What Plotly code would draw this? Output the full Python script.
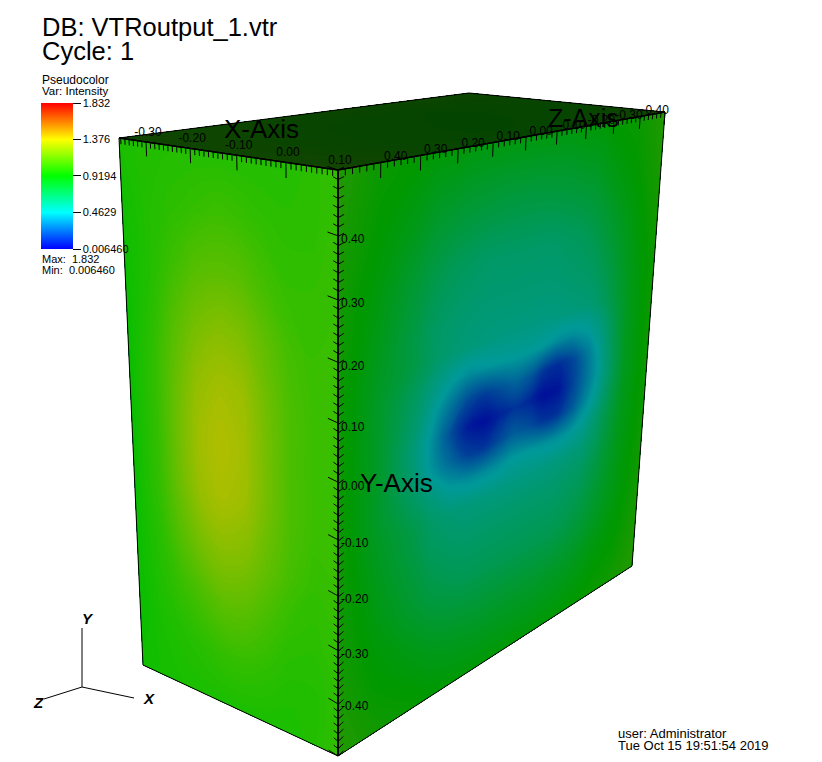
import numpy as np
import plotly.graph_objects as go

# ---------- data ----------
VMIN, VMAX = 0.00646, 1.832
CBAR_TICKS = [0.00646, 0.4629, 0.9194, 1.376, 1.832]
CBAR_LABELS = ["0.006460", "0.4629", "0.9194", "1.376", "1.832"]

X_RANGE = (-0.364, 0.10)
Y_RANGE = (-0.5, 0.5)
Z_RANGE = (-0.5, 0.5)

X_TICKS = [-0.30, -0.20, -0.10, 0.00, 0.10]
Y_TICKS = [0.40, 0.30, 0.20, 0.10, 0.00, -0.10, -0.20, -0.30, -0.40]
Z_TICKS = [0.40, 0.30, 0.20, 0.10, 0.00, -0.10, -0.20, -0.30, -0.40]
X_MINOR, Y_MINOR, Z_MINOR = 10, 7, 6  # tick gaps per 0.10

RIGHT_Z = [0.5, 0.4, 0.3, 0.25, 0.2, 0.15, 0.1, 0.05, 0, -0.05, -0.1, -0.15, -0.2, -0.25, -0.3, -0.4, -0.5]
RIGHT_Y = [0.5, 0.4, 0.3, 0.2, 0.15, 0.1, 0.05, 0, -0.05, -0.1, -0.15, -0.2, -0.3, -0.4, -0.5]
RIGHT_V = [
    [1.02, .95, .92, .90, .90, .88, .88, .88, .88, .88, .88, .88, .90, .90, .92, .95, 1.02],
    [1.00, .92, .85, .80, .78, .76, .75, .74, .74, .74, .75, .76, .78, .80, .85, .92, 1.00],
    [.98, .88, .76, .70, .66, .64, .62, .62, .62, .62, .62, .64, .66, .70, .76, .88, .98],
    [.97, .84, .70, .63, .60, .58, .57, .57, .57, .57, .57, .58, .60, .62, .68, .85, .96],
    [.96, .82, .70, .62, .58, .56, .55, .54, .54, .54, .54, .55, .56, .58, .64, .84, .96],
    [.96, .80, .64, .54, .47, .42, .44, .46, .47, .47, .45, .42, .43, .47, .56, .83, .96],
    [.96, .80, .60, .47, .34, .22, .18, .24, .30, .26, .16, .14, .22, .36, .50, .83, .96],
    [.96, .80, .56, .42, .24, .09, .05, .11, .16, .12, .05, .07, .20, .34, .48, .82, .96],
    [.96, .80, .58, .44, .32, .20, .16, .22, .28, .24, .16, .16, .26, .40, .52, .83, .96],
    [.96, .80, .64, .55, .47, .43, .42, .43, .46, .46, .44, .43, .45, .50, .60, .84, .96],
    [.97, .82, .70, .62, .58, .56, .55, .54, .54, .54, .54, .55, .56, .58, .65, .85, .96],
    [.97, .84, .72, .65, .62, .60, .60, .60, .60, .60, .60, .60, .62, .64, .70, .86, .97],
    [.98, .88, .78, .73, .70, .68, .68, .68, .68, .68, .68, .68, .70, .73, .78, .88, .98],
    [1.00, .92, .87, .84, .82, .81, .80, .80, .80, .80, .80, .81, .82, .84, .87, .92, 1.00],
    [1.02, .97, .94, .92, .91, .90, .90, .90, .90, .90, .90, .90, .91, .92, .94, .97, 1.02],
]

LEFT_X = [-0.364, -0.3, -0.25, -0.2, -0.15, -0.1, -0.05, 0, 0.05, 0.1]
LEFT_Y = [0.5, 0.4, 0.3, 0.2, 0.1, 0, -0.1, -0.2, -0.3, -0.4, -0.5]
LEFT_V = [
    [.98, 1.00, 1.00, 1.00, 1.00, 1.00, 1.00, 1.00, 1.02, 1.04],
    [.96, 1.00, 1.02, 1.04, 1.06, 1.05, 1.03, 1.02, 1.02, 1.05],
    [.95, 1.00, 1.06, 1.12, 1.14, 1.13, 1.08, 1.04, 1.04, 1.05],
    [.94, 1.02, 1.12, 1.20, 1.24, 1.22, 1.15, 1.08, 1.05, 1.06],
    [.94, 1.04, 1.16, 1.27, 1.31, 1.29, 1.19, 1.10, 1.06, 1.06],
    [.94, 1.04, 1.18, 1.30, 1.34, 1.31, 1.20, 1.10, 1.06, 1.06],
    [.94, 1.04, 1.17, 1.28, 1.32, 1.29, 1.19, 1.10, 1.06, 1.06],
    [.94, 1.02, 1.12, 1.20, 1.24, 1.22, 1.15, 1.08, 1.04, 1.05],
    [.94, 1.00, 1.05, 1.10, 1.14, 1.13, 1.08, 1.03, 1.02, 1.04],
    [.94, .98, 1.00, 1.02, 1.04, 1.04, 1.02, 1.00, 1.00, 1.03],
    [.96, .97, .98, .98, .98, .98, .98, .98, 1.00, 1.04],
]

TOP_X = [-0.364, -0.2, -0.05, 0.1]
TOP_Z = [0.5, 0.2, -0.1, -0.5]
TOP_V = [
    [1.02, 1.02, 1.02, 1.04],
    [1.00, .97, .96, .98],
    [1.00, .94, .93, .96],
    [1.00, .98, .98, 1.02],
]

# ---------- screen placement of the box (pixels) ----------
LEFT_CORNERS = [(119, 138), (338, 170), (338, 756), (143, 665)]
RIGHT_CORNERS = [(338, 170), (665, 112), (632, 566), (338, 756)]
TOP_CORNERS = [(119, 138), (338, 170), (665, 112), (469, 93)]
BRIGHT_LEFT, BRIGHT_RIGHT, BRIGHT_TOP = 0.745, 0.60, 0.27
BASE_COLORS = [(0, 0, 255), (0, 255, 255), (0, 255, 0), (255, 255, 0), (255, 0, 0)]


def homography(src, dst):
    rows, rhs = [], []
    for (a, b), (u, v) in zip(src, dst):
        rows.append([a, b, 1, 0, 0, 0, -u * a, -u * b]); rhs.append(u)
        rows.append([0, 0, 0, a, b, 1, -v * a, -v * b]); rhs.append(v)
    h = np.linalg.solve(np.array(rows, float), np.array(rhs, float))
    return np.append(h, 1).reshape(3, 3)


def project(H, a, b):
    a, b = np.asarray(a, float), np.asarray(b, float)
    w = H[2, 0] * a + H[2, 1] * b + H[2, 2]
    return (H[0, 0] * a + H[0, 1] * b + H[0, 2]) / w, (H[1, 0] * a + H[1, 1] * b + H[1, 2]) / w


xmin, xmax = X_RANGE
H_LEFT = homography([(xmin, .5), (xmax, .5), (xmax, -.5), (xmin, -.5)], LEFT_CORNERS)
H_RIGHT = homography([(.5, .5), (-.5, .5), (-.5, -.5), (.5, -.5)], RIGHT_CORNERS)
H_TOP = homography([(xmin, .5), (xmax, .5), (xmax, -.5), (xmin, -.5)], TOP_CORNERS)


def scale(bright):
    return [[i / 4, "rgb(%d,%d,%d)" % tuple(round(c * bright) for c in col)] for i, col in enumerate(BASE_COLORS)]


fig = go.Figure()


def add_face(name, H, a_vals, b_vals, vals, bright, corners):
    a = np.array(a_vals, float)
    b = np.array(b_vals, float)
    v = np.array(vals, float)
    if a[0] > a[-1]:
        a, v = a[::-1], v[:, ::-1]
    if b[0] > b[-1]:
        b, v = b[::-1], v[::-1, :]
    A, B = np.meshgrid(a, b)
    px, py = project(H, A, B)
    mean = float(v.mean())
    t = (mean - VMIN) / (VMAX - VMIN) * 4
    i = min(int(t), 3)
    mix = [BASE_COLORS[i][k] * (1 - t + i) + BASE_COLORS[i + 1][k] * (t - i) for k in range(3)]
    path = "M" + "L".join("%g,%g" % c for c in corners) + "Z"
    fig.add_shape(type="path", path=path, xref="x", yref="y", layer="below", line=dict(width=0),
                  fillcolor="rgb(%d,%d,%d)" % tuple(round(m * bright) for m in mix))
    axis = dict(showticklabels="none", showgrid=False, startline=False, endline=False,
                showline=False, smoothing=0, minorgridcount=0)
    fig.add_trace(go.Carpet(a=a.tolist(), b=b.tolist(), x=px.tolist(), y=py.tolist(), carpet=name,
                            aaxis=axis, baxis=axis, xaxis="x", yaxis="y"))
    fig.add_trace(go.Contourcarpet(a=a.tolist(), b=b.tolist(), z=v.tolist(), carpet=name, autocontour=False,
                                   contours=dict(start=VMIN, end=VMAX, size=0.012, coloring="fill"),
                                   line=dict(width=0), colorscale=scale(bright), zmin=VMIN, zmax=VMAX,
                                   showscale=False))


add_face("left", H_LEFT, LEFT_X, LEFT_Y, LEFT_V, BRIGHT_LEFT, LEFT_CORNERS)
add_face("right", H_RIGHT, RIGHT_Z, RIGHT_Y, RIGHT_V, BRIGHT_RIGHT, RIGHT_CORNERS)
add_face("top", H_TOP, TOP_X, TOP_Z, TOP_V, BRIGHT_TOP, TOP_CORNERS)

# outline of the box
for corners in (LEFT_CORNERS, RIGHT_CORNERS, TOP_CORNERS):
    fig.add_trace(go.Scatter(x=[c[0] for c in corners] + [corners[0][0]],
                             y=[c[1] for c in corners] + [corners[0][1]],
                             mode="lines", line=dict(color="black", width=1), hoverinfo="skip"))


def add_segments(segs, width=1):
    xs, ys = [], []
    for (x0, y0), (x1, y1) in segs:
        xs += [float(x0), float(x1), None]
        ys += [float(y0), float(y1), None]
    fig.add_trace(go.Scatter(x=xs, y=ys, mode="lines", line=dict(color="black", width=width), hoverinfo="skip"))


def ticks(rng, n):
    """(value, is_major) for n tick gaps per 0.10 inside rng."""
    lo, hi = rng
    k0, k1 = int(np.ceil(lo * 10 * n - 1e-6)), int(np.floor(hi * 10 * n + 1e-6))
    return [(k / (10 * n), k % n == 0) for k in range(k0, k1 + 1)]


segs = []
for x, major in ticks(X_RANGE, X_MINOR):
    segs.append((project(H_LEFT, x, 0.5), project(H_LEFT, x, 0.5 - (0.024 if major else 0.010))))
for z, major in ticks(Z_RANGE, Z_MINOR):
    segs.append((project(H_RIGHT, z, 0.5), project(H_RIGHT, z, 0.5 - (0.024 if major else 0.010))))
for y, major in ticks(Y_RANGE, Y_MINOR):
    segs.append((project(H_LEFT, xmax - (0.020 if major else 0.009), y + 0.003), project(H_LEFT, xmax, y)))
    segs.append((project(H_RIGHT, 0.5, y), project(H_RIGHT, 0.486, y + 0.003)))
add_segments(segs)
# thicker axis lines
add_segments([(LEFT_CORNERS[0], LEFT_CORNERS[1]), (RIGHT_CORNERS[0], RIGHT_CORNERS[1]),
              (RIGHT_CORNERS[0], RIGHT_CORNERS[3])], width=1.6)

# tick labels
TICK_FONT = dict(family="Liberation Sans", size=12, color="black")
px, py = project(H_LEFT, np.array(X_TICKS), 0.5)
fig.add_trace(go.Scatter(x=px + 2, y=py - 9, text=["%.2f" % v for v in X_TICKS], mode="text",
                         textposition="middle center", textfont=TICK_FONT, hoverinfo="skip"))
px, py = project(H_RIGHT, np.array(Z_TICKS), 0.5)
fig.add_trace(go.Scatter(x=px + 15, y=py - 5, text=["%.2f" % v for v in Z_TICKS], mode="text",
                         textposition="middle center", textfont=TICK_FONT, hoverinfo="skip"))
px, py = project(H_RIGHT, 0.5, np.array(Y_TICKS))
fig.add_trace(go.Scatter(x=px + 3, y=py + 3, text=["%.2f" % v for v in Y_TICKS], mode="text",
                         textposition="middle right", textfont=TICK_FONT, hoverinfo="skip"))

# triad
TRIAD_O = (82, 687)
add_segments([(TRIAD_O, (82, 628)), (TRIAD_O, (134, 698)), (TRIAD_O, (44, 699))])

# colour bar
fig.add_trace(go.Scatter(
    x=[-50, -50], y=[-50, -50], mode="markers",
    marker=dict(size=1, color=[VMIN, VMAX], cmin=VMIN, cmax=VMAX, showscale=True,
                colorscale=scale(1.0),
                colorbar=dict(x=41 / 822, xanchor="left", y=1 - 103 / 762, yanchor="top",
                              lenmode="pixels", len=146, thicknessmode="pixels", thickness=32,
                              xpad=0, ypad=0, outlinewidth=0, borderwidth=0,
                              tickmode="array", tickvals=CBAR_TICKS, ticktext=CBAR_LABELS,
                              ticks="outside", ticklen=8, tickwidth=1, tickcolor="black",
                              tickfont=dict(family="Liberation Sans", size=11, color="black"))),
    hoverinfo="skip"))


def label(text, x, y, size, anchor="left", weight=None, italic=False):
    fig.add_annotation(x=x, y=y, xref="x", yref="y", text=text, showarrow=False, xanchor=anchor, yanchor="middle",
                       font=dict(family="Liberation Sans", size=size, color="black",
                                 weight=weight or "normal", style="italic" if italic else "normal"))


NBSP = "\u00a0"
fig_labels = [
    ("DB: VTRoutput_1.vtr", 40, 27, 25.5), ("Cycle: 1", 40, 51, 25.5),
    ("Pseudocolor", 39.5, 80, 12), ("Var: Intensity", 39.5, 91, 11.5),
    ("Max:" + NBSP * 2 + "1.832", 39.5, 259, 11), ("Min:" + NBSP * 2 + "0.006460", 39.5, 270, 11),
    ("user: Administrator", 616, 733, 13), ("Tue Oct 15 19:51:54 2019", 616, 745, 13),
    ("X-Axis", 222, 129, 26), ("Z-Axis", 546, 118, 25), ("Y-Axis", 358, 483, 26),
]
for t, x, y, s in fig_labels:
    label(t, x, y, s)
for t, x, y in [("Y", 88, 618), ("X", 149, 698), ("Z", 38, 702)]:
    label(t, x, y, 15, anchor="center", weight="bold", italic=True)

fig.update_layout(
    width=822, height=762, margin=dict(l=0, r=0, t=0, b=0), showlegend=False,
    paper_bgcolor="white", plot_bgcolor="white",
    xaxis=dict(range=[0, 822], visible=False, fixedrange=True),
    yaxis=dict(range=[762, 0], visible=False, fixedrange=True),
)
fig.write_html("out.html", post_script="document.body.style.margin='0';document.body.style.overflow='hidden';",
               config=dict(displayModeBar=False))
